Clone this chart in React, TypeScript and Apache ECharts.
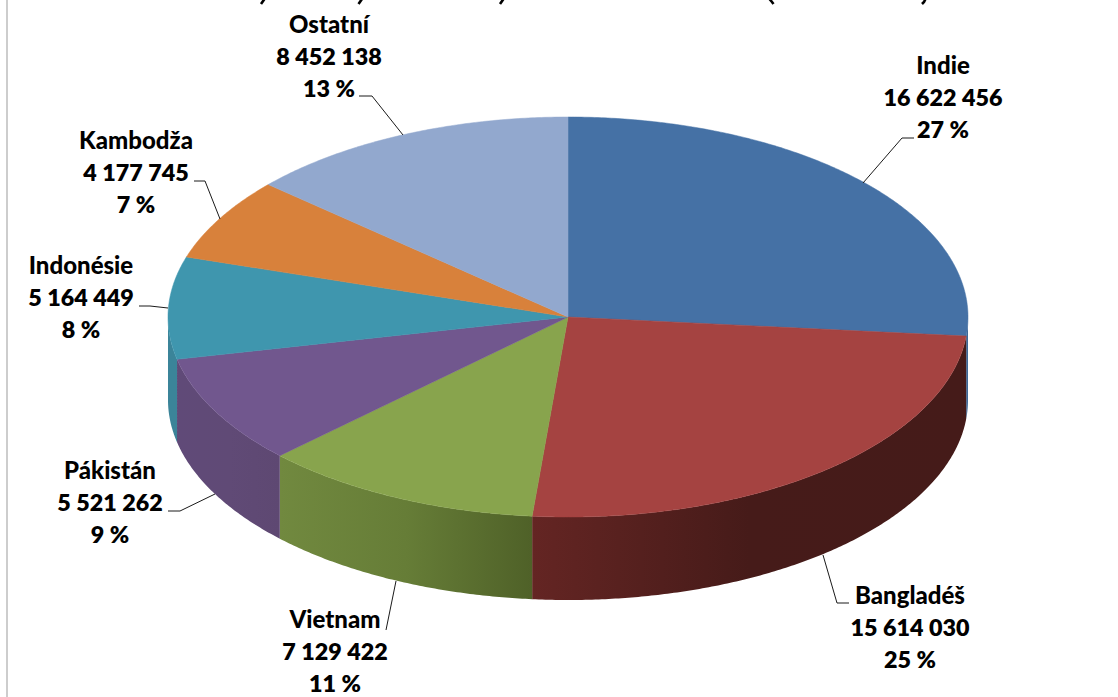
import React, { useEffect, useRef } from "react";
import * as echarts from "echarts";

const categories = ["Indie", "Bangladéš", "Vietnam", "Pákistán", "Indonésie", "Kambodža", "Ostatní"];
const values = [16622456, 15614030, 7129422, 5521262, 5164449, 4177745, 8452138];
const topColors = ["#4571a5", "#a54341", "#88a44d", "#71578e", "#3f96ae", "#d8813b", "#92a8ce"];
const wallFrom = ["#3e6897", "#642523", "#71893f", "#604a78", "#3b8499", "#d8813b", "#92a8ce"];
const wallMid = ["#3e6897", "#461b19", "#667d37", "#604a76", "#3b8499", "#d8813b", "#92a8ce"];
const wallTo = ["#3e6897", "#451b19", "#4f6128", "#5e4872", "#3b8499", "#d8813b", "#92a8ce"];

// label placement: centre x, first line centre y, leader polyline
const labelPlaces: { x: number; y: number; line: number[][] }[] = [
  { x: 943, y: 64, line: [[914, 138], [902, 138], [863, 183]] },
  { x: 910, y: 594, line: [[849, 603], [837, 603], [823, 555]] },
  { x: 335, y: 618, line: [[386, 630], [396, 581]] },
  { x: 110, y: 469, line: [[168, 511], [180, 511], [215, 494]] },
  { x: 81, y: 264, line: [[139, 306], [150, 306], [168, 308]] },
  { x: 136, y: 139, line: [[194, 181], [205, 181], [220, 219]] },
  { x: 329, y: 23, line: [[359, 96], [372, 96], [403, 135]] },
];
// the title lies above the picture's top edge: only the tips of five glyphs show
const titleTips = [
  [[264.5, -1], [261, 4]],
  [[362, -1], [358.5, 4]],
  [[503.5, -1], [500, 4]],
  [[769.5, -1], [772, 2], [773.5, 4]],
  [[925.5, -1], [924, 2], [922, 4]],
];

const CX = 568, CY = 317, RX = 400, RY = 200, DEPTH = 83;
const FONT = "Lato, 'Open Sans', sans-serif";
const total = values.reduce((a, b) => a + b, 0);
const starts: number[] = [];
values.reduce((acc, v, i) => { starts[i] = acc; return acc + v; }, 0);

const toAngle = (v: number) => (v / total) * Math.PI * 2;
const rim = (a: number, dy = 0) => [CX + RX * Math.sin(a), CY - RY * Math.cos(a) + dy];
const arc = (a1: number, a2: number, dy = 0) => {
  const n = Math.max(2, Math.ceil(Math.abs(a2 - a1) * 120));
  const out: number[][] = [];
  for (let i = 0; i <= n; i++) out.push(rim(a1 + ((a2 - a1) * i) / n, dy));
  return out;
};
const fmt = (v: number) => String(v).replace(/\B(?=(\d{3})+$)/g, " ");

export default function App() {
  const ref = useRef<HTMLDivElement>(null);
  useEffect(() => {
    if (!ref.current) return;
    const chart = echarts.init(ref.current, undefined, { renderer: "svg" });
    chart.setOption({
      animation: false,
      backgroundColor: "#ffffff",
      graphic: [
        { type: "line", shape: { x1: 7, y1: 0, x2: 7, y2: 697 }, style: { stroke: "#bdbdbd", lineWidth: 1.5 }, silent: true },
        ...titleTips.map((points) => ({
          type: "polyline", silent: true,
          shape: { points },
          style: { fill: "none", stroke: "#000", lineWidth: 2.6 },
        })),
      ],
      series: [
        {
          type: "custom", coordinateSystem: "none", z: 1, silent: true,
          data: values.map((v, i) => ({ name: categories[i], value: [v, starts[i]] })),
          renderItem: (p: any, api: any) => {
            const i = p.dataIndex;
            const a1 = Math.max(toAngle(api.value(1)), Math.PI / 2);
            const a2 = Math.min(toAngle(api.value(1) + api.value(0)), (Math.PI * 3) / 2);
            if (a2 <= a1) return { type: "group", children: [] };
            const points = [...arc(a1, a2), ...arc(a2, a1, DEPTH)];
            return {
              type: "polygon",
              shape: { points },
              style: {
                fill: new echarts.graphic.LinearGradient(0, 0, 1, 0, [
                  { offset: 0, color: wallFrom[i] },
                  { offset: 0.5, color: wallMid[i] },
                  { offset: 1, color: wallTo[i] },
                ]),
              },
            };
          },
        },
        {
          type: "custom", coordinateSystem: "none", z: 2, silent: true,
          data: values.map((v, i) => ({ name: categories[i], value: [v, starts[i]] })),
          renderItem: (p: any, api: any) => {
            const i = p.dataIndex;
            const a1 = toAngle(api.value(1));
            const a2 = toAngle(api.value(1) + api.value(0));
            return {
              type: "polygon",
              shape: { points: [[CX, CY], ...arc(a1, a2)] },
              style: { fill: topColors[i], stroke: topColors[i], lineWidth: 0.5 },
            };
          },
        },
        {
          type: "custom", coordinateSystem: "none", z: 3, silent: true,
          data: values.map((v, i) => ({ name: categories[i], value: [v] })),
          renderItem: (p: any, api: any) => {
            const i = p.dataIndex;
            const v = api.value(0);
            const place = labelPlaces[i];
            const lines = [categories[i], fmt(v), `${Math.round((v / total) * 100)} %`];
            return {
              type: "group",
              children: [
                {
                  type: "polyline",
                  shape: { points: place.line },
                  style: { fill: "none", stroke: "#1a1a1a", lineWidth: 1 },
                },
                ...lines.map((t, k) => ({
                  type: "text",
                  x: place.x,
                  y: place.y + k * 32.5,
                  style: {
                    text: t, fill: "#000",
                    font: `${k === 0 ? 900 : 800} ${k === 0 ? 24 : 23.3}px ${FONT}`,
                    textAlign: "center", textVerticalAlign: "middle",
                  },
                })),
              ],
            };
          },
        },
      ],
    });
    return () => chart.dispose();
  }, []);
  return <div ref={ref} style={{ position: "absolute", left: 0, top: 0, width: 1118, height: 697 }} />;
}
